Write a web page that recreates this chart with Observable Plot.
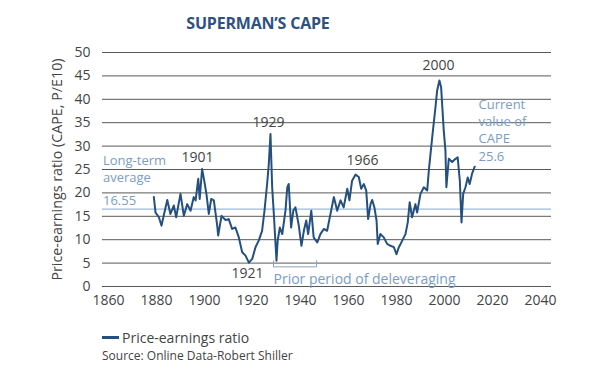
<!DOCTYPE html>
<html><head><meta charset="utf-8">
<script src="https://cdn.jsdelivr.net/npm/d3@7"></script>
<script src="https://cdn.jsdelivr.net/npm/@observablehq/plot@0.6"></script>
<style>
body{margin:0;background:#fff;}
#wrap{position:relative;width:600px;height:375px;font-family:"Open Sans",sans-serif;overflow:hidden;background:#fff}
#title{position:absolute;left:0;width:516px;top:12px;text-align:center;font-weight:700;font-size:16px;color:#2d5282;letter-spacing:-0.2px}
#chart{position:absolute;left:0;top:0}
#legend{position:absolute;left:102px;top:328px;font-size:14px;color:#444;display:flex;align-items:center}
#legend .sw{display:inline-block;width:17px;height:2.5px;background:#24507f;margin-right:3px}
#source{position:absolute;left:102px;top:347px;font-size:12px;color:#444}
</style></head>
<body>
<div id="wrap">
  <div id="chart"></div>
  <div id="title"></div>
  <div id="legend"><span class="sw"></span><span id="legtext"></span></div>
  <div id="source"></div>
</div>
<script>
// ---- Data ----
const title = "SUPERMAN’S CAPE";
const yLabel = "Price-earnings ratio (CAPE, P/E10)";
const seriesName = "Price-earnings ratio";
const sourceText = "Source: Online Data-Robert Shiller";

const xTicks = [1860, 1880, 1900, 1920, 1940, 1960, 1980, 2000, 2020, 2040];
const yTicks = [0, 5, 10, 15, 20, 25, 30, 35, 40, 45, 50];

const years = [1878.9,1879.6,1881.0,1882.1,1883.0,1884.5,1885.8,1887.2,1888.2,1890.0,1891.4,1892.8,1894.2,1895.5,1896.3,1897.4,1898.0,1899.0,1900.0,1900.8,1901.8,1902.8,1903.9,1905.3,1905.7,1907.1,1908.75,1910.1,1911.5,1912.9,1914.3,1915.7,1917.1,1918.5,1919.9,1921.25,1922.6,1924.0,1925.0,1926.1,1926.8,1927.5,1928.2,1928.9,1930.0,1930.5,1931.4,1932.4,1933.75,1934.5,1935.1,1936.1,1937.0,1937.9,1939.3,1940.4,1941.4,1942.4,1943.2,1944.5,1945.5,1947.0,1948.3,1949.7,1951.1,1952.5,1953.9,1955.3,1956.7,1958.0,1959.5,1960.4,1961.5,1962.9,1964.3,1965.3,1966.4,1967.4,1968.2,1969.2,1969.9,1970.8,1971.7,1972.2,1973.3,1974.7,1976.1,1977.5,1978.9,1980.0,1981.0,1982.4,1983.75,1984.7,1985.5,1986.5,1987.9,1988.6,1990.0,1991.4,1992.8,1993.5,1994.9,1996.25,1996.95,1997.9,1998.6,1999.7,2000.4,2000.8,2001.8,2003.2,2004.6,2005.5,2006.4,2007.1,2007.8,2008.75,2009.7,2010.5,2011.5,2012.6];
const cape = [19.1,15.8,14.8,13.0,15.1,18.5,15.5,17.3,14.8,19.8,15.1,17.6,16.2,19.1,18.4,23.0,18.7,25.1,22.3,19.8,15.5,18.7,18.4,13.0,10.9,15.1,14.2,14.4,12.3,12.6,10.5,7.3,6.6,5.1,5.9,8.4,9.8,11.9,16.2,21.9,26.2,32.6,21.2,15.5,5.5,9.8,12.6,11.2,16.2,21.2,21.9,12.6,16.2,16.9,13.0,8.7,11.9,14.1,11.2,16.2,10.5,9.4,11.2,12.3,11.9,15.5,19.1,16.2,18.4,16.9,20.9,18.4,22.6,23.9,23.4,20.9,21.9,20.5,14.4,17.6,18.5,16.9,14.1,9.1,11.2,10.5,9.1,8.7,8.4,6.9,8.4,9.8,11.2,13.7,18.0,14.8,17.6,15.8,19.8,21.2,20.5,24.9,31.9,38.3,41.9,44.0,42.6,33.3,29.1,21.2,27.3,26.6,27.3,27.6,22.6,13.7,19.8,21.2,23.3,21.9,24.1,25.6];

const longTermAvg = 16.55;

// peak / trough labels
const peakText = ["1901", "1929", "1921", "1966", "2000"];
const peakX = [1897.1, 1926.7, 1917.9, 1965.8, 1997.5];
const peakY = [27.6, 35.0, 2.7, 26.9, 47.2];

// blue notes
const avgText = ["Long-term", "average", "16.55"];
const avgX = [1857.7, 1857.7, 1857.7];
const avgY = [26.9, 23.3, 18.4];
const curText = ["Current", "value of", "CAPE", "25.6"];
const curX = [2014.2, 2014.2, 2014.2, 2014.2];
const curY = [38.8, 35.1, 31.5, 27.8];

// deleveraging bracket
const priorText = "Prior period of deleveraging";
const priorStart = 1928.75, priorEnd = 1946.7;
const bracketLow = 4.2, bracketHigh = 5.5;
const priorTextY = 1.5;

// ---- Build ----
const series = years.map((x, i) => ({x, y: cape[i]}));
const peaks = peakText.map((t, i) => ({t, x: peakX[i], y: peakY[i]}));
const avgNotes = avgText.map((t, i) => ({t, x: avgX[i], y: avgY[i]}));
const curNotes = curText.map((t, i) => ({t, x: curX[i], y: curY[i]}));
const bracket = [[priorStart, bracketHigh], [priorStart, bracketLow], [priorEnd, bracketLow], [priorEnd, bracketHigh]];

const blue = "#7b9cc6";
const chart = Plot.plot({
  width: 600, height: 320,
  marginTop: 52, marginBottom: 34, marginLeft: 102, marginRight: 49,
  x: {domain: [1857.5, 2044.6]},
  y: {domain: [0, 50]},
  style: {fontFamily: "'Open Sans', sans-serif", fontSize: "14px", color: "#444", background: "transparent"},
  marks: [
    Plot.ruleY(yTicks, {stroke: "#595959", strokeWidth: 1}),
    Plot.ruleY([longTermAvg], {stroke: "#9bbadd", strokeWidth: 1.2}),
    Plot.axisX({ticks: xTicks, tickSize: 0, tickPadding: 9, tickFormat: d => String(d), label: null, fill: "#444"}),
    Plot.axisY({ticks: yTicks, tickSize: 0, tickPadding: 12, label: null, fill: "#444"}),
    Plot.text([yLabel], {frameAnchor: "left", dx: -45, rotate: -90, textAnchor: "middle", text: d => d, fill: "#444", fontSize: 14.3}),
    Plot.line(series, {x: "x", y: "y", stroke: "#24507f", strokeWidth: 2, strokeLinejoin: "round"}),
    Plot.line(bracket, {x: d => d[0], y: d => d[1], stroke: "#8aa2c2", strokeWidth: 1}),
    Plot.text(peaks, {x: "x", y: "y", text: "t", fill: "#444", fontSize: 14}),
    Plot.text(avgNotes, {x: "x", y: "y", text: "t", fill: blue, fontSize: 13, textAnchor: "start"}),
    Plot.text(curNotes, {x: "x", y: "y", text: "t", fill: blue, fontSize: 13, textAnchor: "start"}),
    Plot.text([priorText], {x: priorStart, y: priorTextY, text: d => d, fill: blue, fontSize: 14, textAnchor: "start"})
  ]
});
document.getElementById("chart").appendChild(chart);
document.getElementById("title").textContent = title;
document.getElementById("legtext").textContent = seriesName;
document.getElementById("source").textContent = sourceText;
</script>
</body></html>
